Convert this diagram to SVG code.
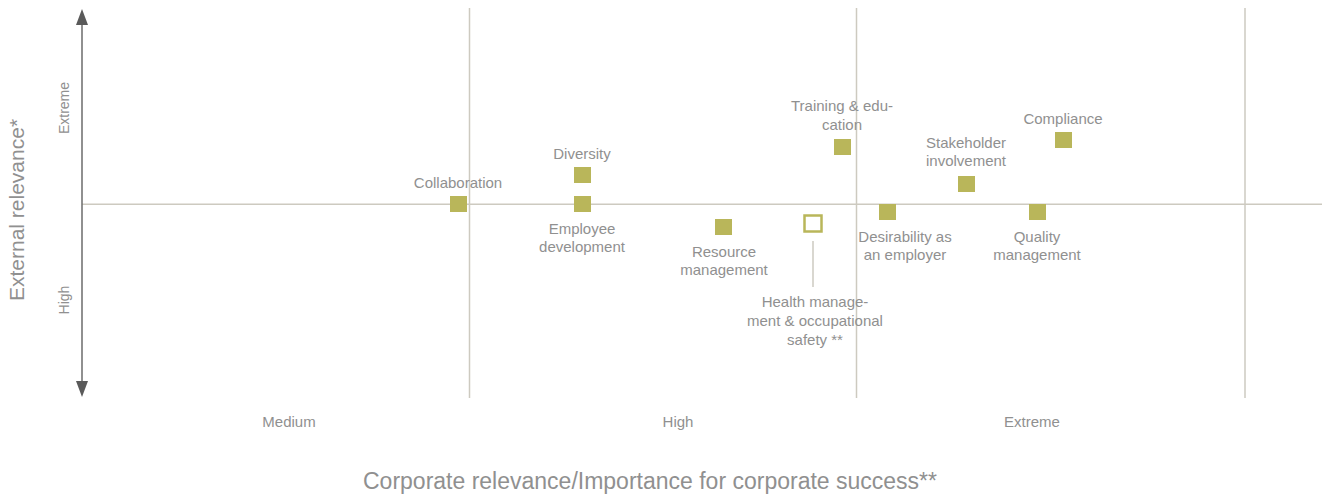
<svg xmlns="http://www.w3.org/2000/svg" width="1324" height="496" viewBox="0 0 1324 496">
<style>
.grid{stroke:#cdcac0;stroke-width:1.5;fill:none}
.axis{stroke:#6b6b6b;stroke-width:1.5;fill:none}
.lbl{font-family:"Liberation Sans",Arial,sans-serif;font-size:15px;fill:#909090;text-anchor:middle}
.tick{font-family:"Liberation Sans",Arial,sans-serif;font-size:14px;fill:#909090;text-anchor:middle}
.tickx{font-family:"Liberation Sans",Arial,sans-serif;font-size:15px;fill:#909090;text-anchor:middle}
.title{font-family:"Liberation Sans",Arial,sans-serif;font-size:21px;fill:#909090;text-anchor:middle}
.sq{fill:#b9b65a}
.sqo{fill:#ffffff;stroke:#b9b65a;stroke-width:2.5}
</style>
<rect width="1324" height="496" fill="#ffffff"/>
<g id="grid">
<line class="grid" x1="469.5" y1="8" x2="469.5" y2="398"/>
<line class="grid" x1="856.5" y1="8" x2="856.5" y2="398"/>
<line class="grid" x1="1245" y1="8" x2="1245" y2="398"/>
<line class="grid" x1="82" y1="204.3" x2="1322" y2="204.3"/>
</g>
<g id="y-axis">
<line class="axis" x1="82" y1="22" x2="82" y2="384"/>
<polygon points="82,9 76,25 88,25" fill="#5a5a5a"/>
<polygon points="82,397 76,381 88,381" fill="#5a5a5a"/>
<text class="title" transform="translate(24,210) rotate(-90)">External relevance*</text>
<text class="tick" transform="translate(69,108) rotate(-90)">Extreme</text>
<text class="tick" transform="translate(69,300) rotate(-90)">High</text>
</g>
<g id="x-axis">
<text class="tickx" x="289" y="427">Medium</text>
<text class="tickx" x="678" y="427">High</text>
<text class="tickx" x="1032" y="427">Extreme</text>
<text class="title" x="650" y="489" style="font-size:23px">Corporate relevance/Importance for corporate success**</text>
</g>
<g id="connectors">
<line x1="813" y1="241" x2="813" y2="287" stroke="#cdcac0" stroke-width="1.5"/>
</g>
<g id="collaboration">
<rect class="sq" x="450" y="196" width="17" height="16"/>
<text class="lbl" x="458" y="188">Collaboration</text>
</g>
<g id="diversity">
<rect class="sq" x="574" y="167" width="17" height="16"/>
<text class="lbl" x="582" y="159">Diversity</text>
</g>
<g id="employee-development">
<rect class="sq" x="574" y="196" width="17" height="16"/>
<text class="lbl" x="582" y="234">Employee</text>
<text class="lbl" x="582" y="252">development</text>
</g>
<g id="training-education">
<rect class="sq" x="834" y="139" width="17" height="16"/>
<text class="lbl" x="842" y="111">Training &amp; edu-</text>
<text class="lbl" x="842" y="130">cation</text>
</g>
<g id="stakeholder-involvement">
<rect class="sq" x="958" y="176" width="17" height="16"/>
<text class="lbl" x="966" y="148">Stakeholder</text>
<text class="lbl" x="966" y="166">involvement</text>
</g>
<g id="compliance">
<rect class="sq" x="1055" y="132" width="17" height="16"/>
<text class="lbl" x="1063" y="124">Compliance</text>
</g>
<g id="resource-management">
<rect class="sq" x="715" y="219" width="17" height="16"/>
<text class="lbl" x="724" y="257">Resource</text>
<text class="lbl" x="724" y="275">management</text>
</g>
<g id="health-management">
<rect class="sqo" x="804.5" y="215.5" width="17" height="16"/>
<text class="lbl" x="815" y="307">Health manage-</text>
<text class="lbl" x="815" y="326">ment &amp; occupational</text>
<text class="lbl" x="815" y="345">safety **</text>
</g>
<g id="desirability">
<rect class="sq" x="879" y="204" width="17" height="16"/>
<text class="lbl" x="905" y="242">Desirability as</text>
<text class="lbl" x="905" y="260">an employer</text>
</g>
<g id="quality-management">
<rect class="sq" x="1029" y="204" width="17" height="16"/>
<text class="lbl" x="1037" y="242">Quality</text>
<text class="lbl" x="1037" y="260">management</text>
</g>
</svg>
